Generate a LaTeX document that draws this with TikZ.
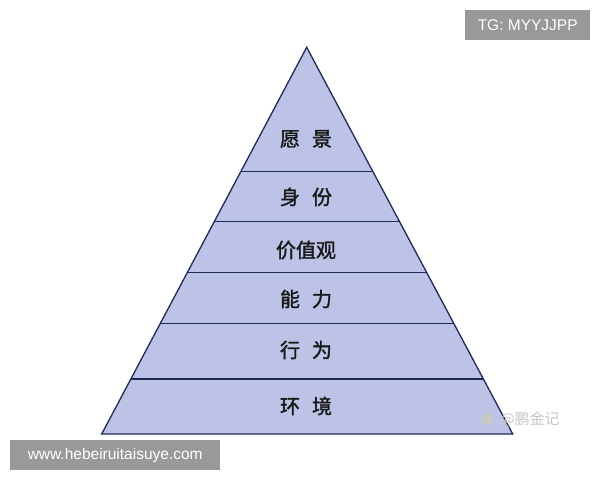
\documentclass[tikz,border=0pt]{standalone}
\usepackage{fontspec}
\setmainfont{Liberation Sans}
\newfontfamily\cjk[FakeBold=1.6]{Noto Sans CJK SC}
\newfontfamily\cjklight{Noto Sans CJK SC}
\usetikzlibrary{calc}
\definecolor{fillc}{HTML}{BCC3E6}
\definecolor{linec}{HTML}{1F2A55}
\begin{document}
\begin{tikzpicture}[x=1pt,y=-1pt,
  lab/.style={font=\cjk\fontsize{20}{20}\selectfont, text=black!90},
  tag/.style={fill=black!40, text=white, font=\fontsize{15.5}{15.5}\selectfont, inner sep=0pt, anchor=north west}]
\useasboundingbox (0,0) rectangle (600,480);
\fill[white] (0,0) rectangle (600,480);
\coordinate (A) at (306.7,47.3);
\coordinate (L) at (101.7,434);
\coordinate (R) at (512.7,434);
\filldraw[fill=fillc, draw=linec, line width=1.3pt, line join=miter] (A) -- (L) -- (R) -- cycle;
\foreach \y [count=\i] in {171.7,221.7,272.7,323.3,379}{
  \pgfmathsetmacro\t{(\y-47.3)/386.7}
  \coordinate (l\i) at ($(A)!\t!(L)$);
  \coordinate (r\i) at ($(A)!\t!(R)$);
  \draw[linec, line width=1.1pt] (l\i) -- (r\i);
}
\node[lab] (n1) at (306,139) {愿\hspace{0.6em}景};
\node[lab] (n2) at (306,197) {身\hspace{0.6em}份};
\node[lab] (n3) at (306,250) {价值观};
\node[lab] (n4) at (306,299) {能\hspace{0.6em}力};
\node[lab] (n5) at (306,350) {行\hspace{0.6em}为};
\node[lab] (n6) at (306,406) {环\hspace{0.6em}境};
\node[font=\cjklight\fontsize{15}{15}\selectfont, text=black!22, anchor=west] (wm) at (497,419) {@鹏金记};
\node[circle, fill=black!22, minimum size=12pt, inner sep=0pt] (paw) at (487,419) {};
\node[tag, minimum width=125pt, minimum height=30pt] (tg) at (465,10) {TG: MYYJJPP};
\node[tag, minimum width=210pt, minimum height=30pt] (www) at (10,440) {www.hebeiruitaisuye.com};
\end{tikzpicture}
\end{document}
